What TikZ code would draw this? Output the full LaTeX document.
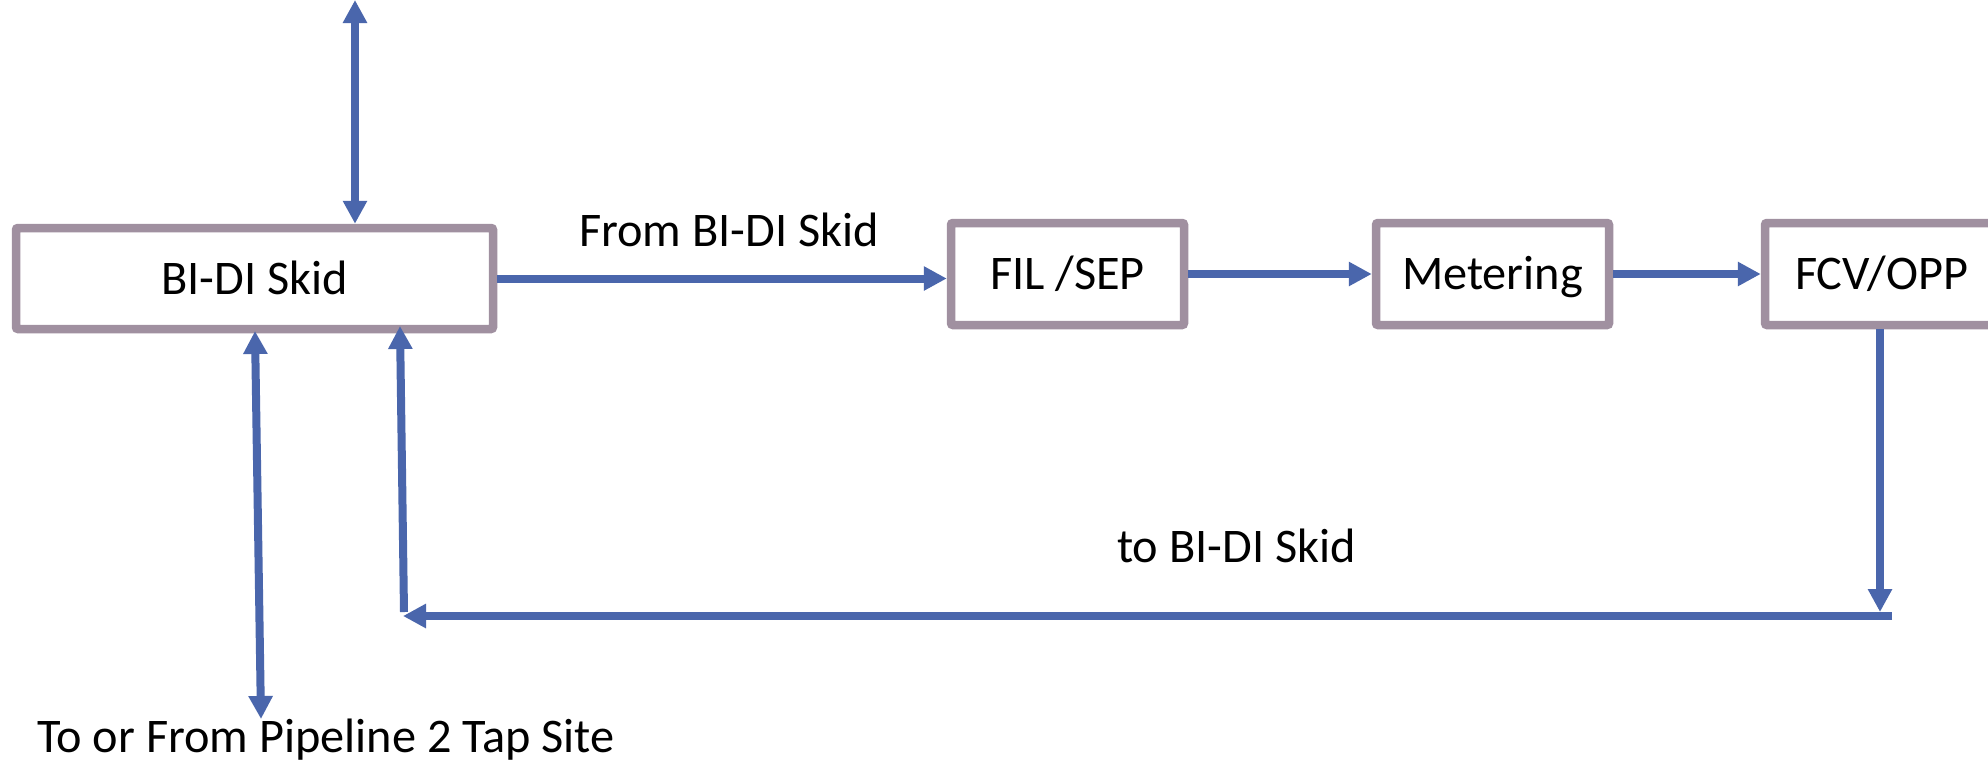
\documentclass[tikz,border=0pt]{standalone}
\usepackage{fontspec}
\setmainfont{Carlito}
\usetikzlibrary{arrows.meta}
\definecolor{flow}{RGB}{74,102,172}
\definecolor{frame}{RGB}{160,144,160}
\tikzset{
  box/.style={draw=frame, line width=8.5pt, rounded corners=2pt, fill=white,
    minimum height=102pt, text height=31pt, text depth=0pt, inner sep=0pt,
    font=\fontsize{48.3}{58}\selectfont},
  lbl/.style={inner sep=0pt, font=\fontsize{48.3}{58}\selectfont},
  arr/.style={draw=flow, line width=8pt, -{Triangle[length=23pt,width=23pt]}},
  darr/.style={draw=flow, line width=8pt, {Triangle[length=23pt,width=23pt]}-{Triangle[length=23pt,width=23pt]}}
}
\begin{document}
\begin{tikzpicture}[x=1pt,y=-1pt]
\useasboundingbox (0,0) rectangle (1988,761);
\clip (0,0) rectangle (1988,761);
\fill[white] (0,0) rectangle (1988,761);

\node[box, minimum width=477pt, minimum height=101pt] (bidi) at (254.5,278.5) {BI-DI Skid};
\node[box, minimum width=233pt] (fil) at (1067.5,274) {FIL /SEP};
\node[box, minimum width=233pt] (met) at (1492.5,274) {Metering};
\node[box, minimum width=233pt] (fcv) at (1881.5,274) {FCV/OPP};

\node[lbl, anchor=base west] (lfrom) at (579,246) {From BI-DI Skid};
\node[lbl, anchor=base west] (lto) at (1117,562) {to BI-DI Skid};
\node[lbl, anchor=base west] (ltap) at (37,752) {To or From Pipeline 2 Tap Site};

\coordinate (top) at (355,0);
\coordinate (tapend) at (261,719);
\coordinate (tapin) at (255,331);
\coordinate (downend) at (1880,612);
\coordinate (rcorner) at (1892,616);
\coordinate (lcorner) at (403,616);
\coordinate (lbase) at (404,612);
\coordinate (retin) at (400,326);

\draw[darr] (top) -- (top |- bidi.north);
\draw[arr] (bidi.east) -- (bidi.east -| fil.west);
\draw[arr] (fil.east) -- (met.west);
\draw[arr] (met.east) -- (fcv.west);
\draw[arr] (fcv.south -| downend) -- (downend);
\draw[arr] (rcorner) -- (lcorner);
\draw[arr] (lbase) -- (retin);
\draw[darr] (tapend) -- (tapin);
\end{tikzpicture}
\end{document}
